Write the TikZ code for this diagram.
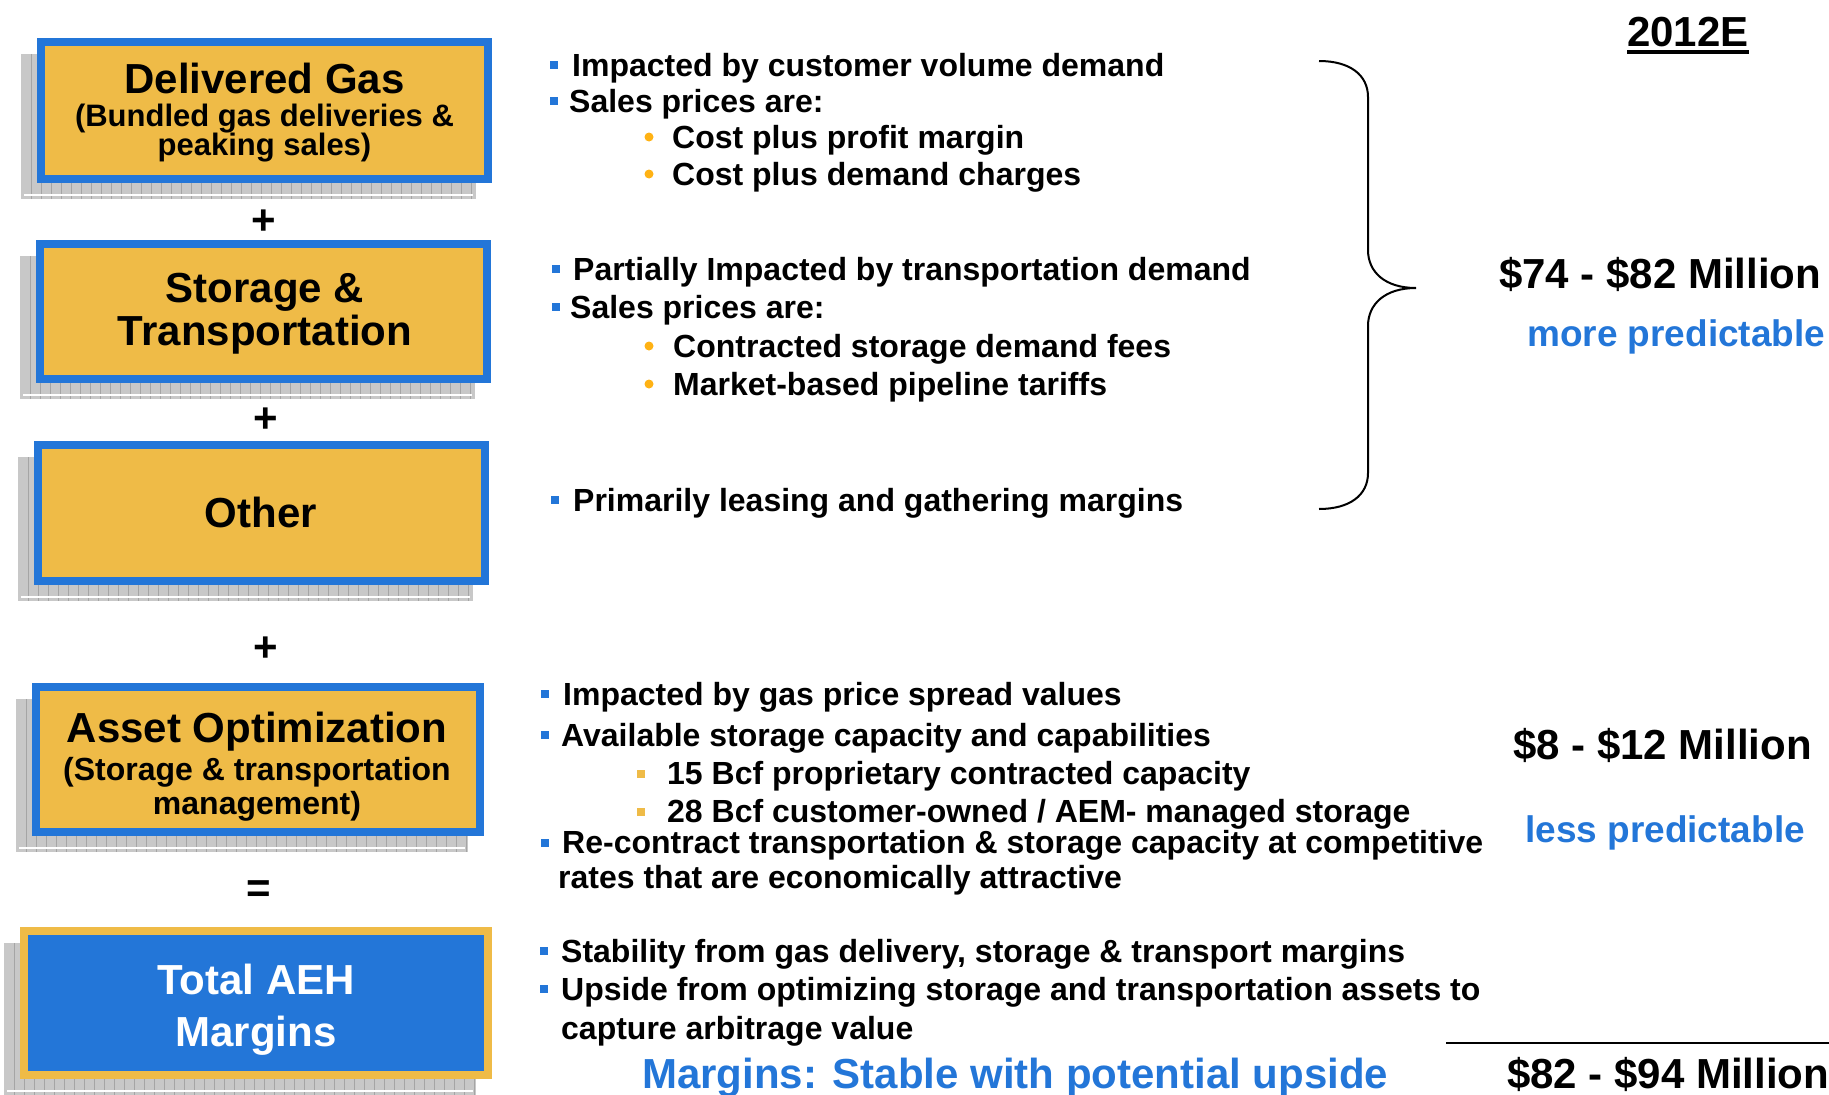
\documentclass[tikz,border=0pt]{standalone}
\usepackage{fontspec}
\setmainfont{Liberation Sans}
\usetikzlibrary{backgrounds}
\definecolor{gold}{RGB}{239,187,71}
\definecolor{bblue}{RGB}{35,118,216}
\definecolor{amber}{RGB}{255,178,20}
\definecolor{shadowgray}{RGB}{200,200,200}
\definecolor{shadowline}{RGB}{165,165,165}
\newcommand{\fsz}[1]{\fontsize{#1}{#1}\selectfont}
\newcommand{\shadowof}[1]{%
  \fill[shadowgray] ([shift={(-20,12)}]#1.north west) rectangle ([shift={(-12,20)}]#1.south east);
  \begin{scope}
    \clip ([shift={(-20,12)}]#1.north west) rectangle ([shift={(-12,20)}]#1.south east);
    \foreach \xx in {10,20,...,470}
      \draw[shadowline, line width=0.7pt] ([shift={({-20+\xx},12)}]#1.north west) -- ([shift={({-20+\xx},20)}]#1.south west);
    \draw[white, line width=1.5pt] ([shift={(-17,16)}]#1.south west) -- ([shift={(-15,16)}]#1.south east);
  \end{scope}}
\newcommand{\sqbul}[3]{\fill[#3] ({#1-4},{#2-4}) rectangle ++(8,8);}
\newcommand{\dotbul}[2]{\fill[amber] (#1,#2) circle (4.5);}
\begin{document}
\begin{tikzpicture}[x=1pt,y=-1pt,
  panel/.style={draw=bblue, fill=gold, line width=8pt, inner sep=0pt, outer sep=0pt},
  ttl/.style={anchor=base, inner sep=0pt, font=\bfseries\fsz{42}},
  sub/.style={anchor=base, inner sep=0pt, font=\bfseries\fsz{31}},
  txt/.style={anchor=base west, inner sep=0pt, font=\bfseries\fsz{32}},
  big/.style={anchor=base west, inner sep=0pt, font=\bfseries\fsz{42}},
  pred/.style={anchor=base west, inner sep=0pt, font=\bfseries\fsz{37}, text=bblue},
  op/.style={inner sep=0pt, font=\bfseries\fsz{42}}
]
\useasboundingbox (0,0) rectangle (1829,1095);

% ---- left panels ----
\node[panel, minimum width=447pt, minimum height=137pt] (b1) at (264.5,110.5) {};
\node[panel, minimum width=447pt, minimum height=135pt] (b2) at (263.5,311.5) {};
\node[panel, minimum width=447pt, minimum height=136pt] (b3) at (261.5,513) {};
\node[panel, minimum width=444pt, minimum height=145pt] (b4) at (258,759.5) {};
\node[panel, draw=gold, fill=bblue, minimum width=464pt, minimum height=144pt] (b5) at (256,1003) {};

\begin{scope}[on background layer]
  \shadowof{b1}
  \shadowof{b2}
  \shadowof{b3}
  \shadowof{b4}
  \shadowof{b5}
\end{scope}

\node[ttl] (b1t) at (264.5,93) {Delivered Gas};
\node[sub] (b1s) at (264.5,126) {(Bundled gas deliveries \&};
\node[sub] (b1u) at (264.5,155) {peaking sales)};

\node[ttl] (b2t) at (265,302) {Storage \&};
\node[ttl] (b2u) at (265,345) {Transportation};

\node[ttl] (b3t) at (261,527) {Other};

\node[ttl] (b4t) at (257,742) {Asset Optimization};
\node[sub, font=\bfseries\fsz{32}] (b4s) at (257,780) {(Storage \& transportation};
\node[sub, font=\bfseries\fsz{32}] (b4u) at (257,814) {management)};

\node[ttl, text=white] (b5t) at (256,994) {Total AEH};
\node[ttl, text=white] (b5u) at (256,1046) {Margins};

\node[op] (p1) at (264,222) {+};
\node[op] (p2) at (266,420) {+};
\node[op] (p3) at (266,649) {+};
\node[op] (eq) at (259,892) {=};

% ---- block 1 ----
\sqbul{554}{65}{bblue}
\node[txt] (a1) at (572,76) {Impacted by customer volume demand};
\sqbul{554}{101}{bblue}
\node[txt] (a2) at (569,112) {Sales prices are:};
\dotbul{649}{137}
\node[txt] (a3) at (672,148) {Cost plus profit margin};
\dotbul{649}{174}
\node[txt] (a4) at (672,185) {Cost plus demand charges};

% ---- block 2 ----
\sqbul{556}{269}{bblue}
\node[txt] (c1) at (573,280) {Partially Impacted by transportation demand};
\sqbul{556}{307}{bblue}
\node[txt] (c2) at (570,318) {Sales prices are:};
\dotbul{649}{346}
\node[txt] (c3) at (673,357) {Contracted storage demand fees};
\dotbul{649}{384}
\node[txt] (c4) at (673,395) {Market-based pipeline tariffs};

% ---- block 3 ----
\sqbul{555}{500}{bblue}
\node[txt] (d1) at (573,511) {Primarily leasing and gathering margins};

% ---- block 4 ----
\sqbul{545}{694}{bblue}
\node[txt] (e1) at (563,705) {Impacted by gas price spread values};
\sqbul{545}{735}{bblue}
\node[txt] (e2) at (561,746) {Available storage capacity and capabilities};
\sqbul{641}{774}{gold}
\node[txt] (e3) at (667,784) {15 Bcf proprietary contracted capacity};
\sqbul{641}{812}{gold}
\node[txt] (e4) at (667,822) {28 Bcf customer-owned / AEM- managed storage};
\sqbul{545}{843}{bblue}
\node[txt] (e5) at (562,853) {Re-contract transportation \& storage capacity at competitive};
\node[txt] (e6) at (558,888) {rates that are economically attractive};

% ---- block 5 ----
\sqbul{544}{951}{bblue}
\node[txt] (f1) at (561,962) {Stability from gas delivery, storage \& transport margins};
\sqbul{544}{989}{bblue}
\node[txt] (f2) at (561,1000) {Upside from optimizing storage and transportation assets to};
\node[txt] (f3) at (561,1039) {capture arbitrage value};
\node[big, text=bblue] (f4) at (642,1088) {Margins: Stable with potential upside};

% ---- brace ----
\draw[line width=2pt] (1319,61) .. controls (1350,61) and (1368,75) .. (1368,97)
  -- (1368,250) .. controls (1368,272) and (1385,288) .. (1416,288)
  .. controls (1385,288) and (1368,304) .. (1368,326)
  -- (1368,473) .. controls (1368,495) and (1350,509) .. (1319,509);

% ---- right column ----
\node[big] (yr) at (1627,46) {2012E};
\draw[line width=4pt] ([yshift=-6pt]yr.base west) -- ([yshift=-6pt]yr.base east);
\node[big] (r1) at (1499,288) {\$74 - \$82 Million};
\node[pred] (r1p) at (1527,346) {more predictable};
\node[big] (r2) at (1513,759) {\$8 - \$12 Million};
\node[pred] (r2p) at (1525,842) {less predictable};
\coordinate (hl) at (1446,1043);
\coordinate (hr) at (1829,1043);
\draw[line width=2pt] (hl) -- (hr);
\node[big] (r3) at (1507,1088) {\$82 - \$94 Million};
\end{tikzpicture}
\end{document}
